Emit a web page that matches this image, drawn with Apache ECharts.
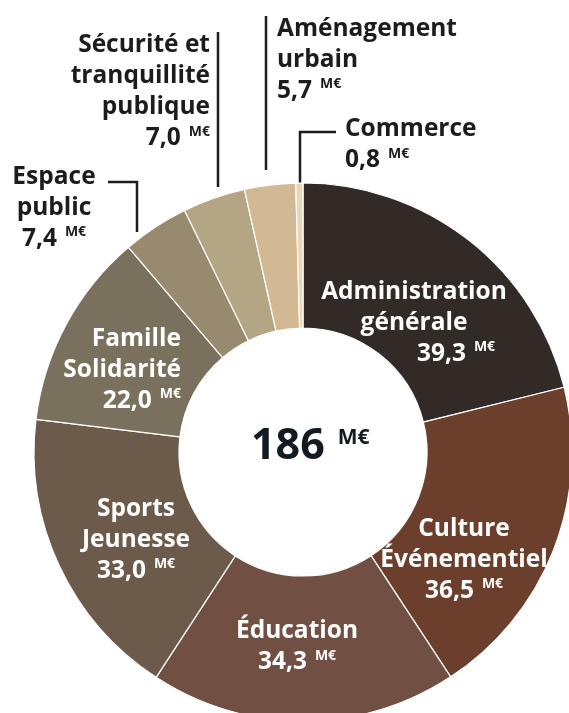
<!DOCTYPE html>
<html>
<head>
<meta charset="utf-8">
<script src="https://cdn.jsdelivr.net/npm/echarts@6/dist/echarts.min.js"></script>
<style>
  html, body { margin: 0; padding: 0; background: #fff; }
  #chart { width: 569px; height: 713px; }
</style>
</head>
<body>
<div id="chart"></div>
<script>
// données (M€), dans l'ordre horaire depuis midi
var categories = ['Administration\ngénérale', 'Culture\nÉvénementiel', 'Éducation', 'Sports\nJeunesse',
                  'Famille\nSolidarité', 'Espace\npublic', 'Sécurité et\ntranquillité\npublique',
                  'Aménagement\nurbain', 'Commerce'];
var values = [39.3, 36.5, 34.3, 33.0, 22.0, 7.4, 7.0, 5.7, 0.8];
var total = 186;
var unit = 'M€';

var colors = ['#322a27', '#6b3f2c', '#724f43', '#6c5b4b', '#79705d',
              '#978a6f', '#b4a585', '#d3b894', '#e8d6b8'];

// placement des étiquettes (centre du bloc) et des traits de rappel
var labelPlace = [
  { x: 414, y: 323, align: 'center', pad: 84 },
  { x: 464, y: 560, align: 'center' },
  { x: 297, y: 647, align: 'center' },
  { x: 136, y: 540, align: 'center' },
  { x: 181, y: 370, align: 'right' },
  { x: 54,  y: 208, align: 'center', line: [[137, 232], [137, 182], [108, 182]] },
  { x: 210, y: 92,  align: 'right',  line: [[218, 187], [218, 110], [218, 32]] },
  { x: 277, y: 60,  align: 'left',   line: [[266, 170], [266, 100], [266, 16]] },
  { x: 345, y: 145, align: 'left',   line: [[300, 183], [300, 132], [336, 132]] }
];

var FONT = '"Open Sans", sans-serif';
var W = 'bold';
var FS = 24.5;

function fmt(v) {
  return v.toFixed(1).replace('.', ',');
}

var data = [];
for (var i = 0; i < categories.length; i++) {
  var outside = !!labelPlace[i].line;
  data.push({
    name: categories[i],
    value: values[i],
    itemStyle: { color: colors[i] },
    label: {
      position: outside ? 'outside' : 'inside',
      color: outside ? '#1c1c1c' : '#ffffff'
    },
    labelLine: { show: outside }
  });
}

var myChart = echarts.init(document.getElementById('chart'), null, { renderer: 'canvas' });
var option = {
  backgroundColor: '#ffffff',
  animation: false,
  title: {
    text: '{a|' + total + '}{b|' + unit + '}',
    left: 251,
    top: 421,
    padding: 0,
    textStyle: {
      rich: {
        a: { fontFamily: FONT, fontSize: 43, fontWeight: W, color: '#121a22', lineHeight: 52 },
        b: { fontFamily: FONT, fontSize: 21, fontWeight: W, color: '#121a22', padding: [0, 0, 18, 13] }
      }
    }
  },
  series: [{
    type: 'pie',
    center: [303, 452],
    radius: [124, 269],
    startAngle: 90,
    clockwise: true,
    avoidLabelOverlap: false,
    itemStyle: { borderColor: '#ffffff', borderWidth: 1.2 },
    label: {
      show: true,
      fontFamily: FONT,
      formatter: function (p) {
        var lines = p.name.split('\n').map(function (s) { return '{n|' + s + '}'; });
        var key = labelPlace[p.dataIndex].pad ? 'p' : 'v';
        lines.push('{' + key + '|' + fmt(p.value) + '}{u|' + unit + '}');
        return lines.join('\n');
      },
      rich: {
        n: { fontFamily: FONT, fontSize: FS, fontWeight: W, lineHeight: 31 },
        v: { fontFamily: FONT, fontSize: FS, fontWeight: W, lineHeight: 31 },
        p: { fontFamily: FONT, fontSize: FS, fontWeight: W, lineHeight: 31, padding: [0, 0, 0, 84] },
        u: { fontFamily: FONT, fontSize: 14, fontWeight: W, padding: [0, 0, 13, 8] }
      }
    },
    labelLine: {
      show: false,
      smooth: false,
      lineStyle: { color: '#1c1c1c', width: 2.5 }
    },
    labelLayout: function (params) {
      var lp = labelPlace[params.dataIndex];
      var out = { x: lp.x, y: lp.y, align: lp.align, verticalAlign: 'middle' };
      if (lp.line) out.labelLinePoints = lp.line;
      return out;
    },
    data: data
  }]
};
myChart.setOption(option, true);
window.onresize = function () {
  myChart.resize();
};
</script>
</body>
</html>
